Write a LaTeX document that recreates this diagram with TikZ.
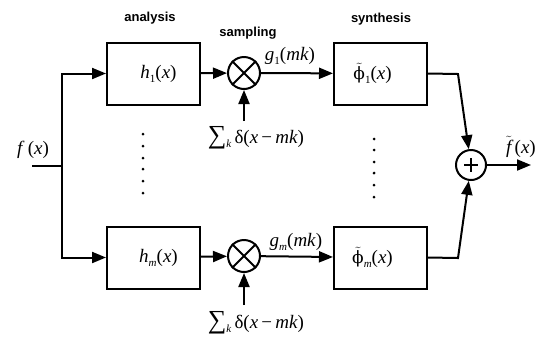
\documentclass[tikz,border=0pt]{standalone}
\usepackage{fontspec}
\setmainfont{Liberation Serif}
\newfontfamily\labf{Liberation Sans}
\newfontfamily\grk{DejaVu Serif}
\usetikzlibrary{arrows.meta}
\newcommand{\ix}[1]{\textit{#1}}
\newcommand{\sub}[1]{\raisebox{-4pt}{\fontsize{11}{11}\selectfont #1}}
\newcommand{\phit}{$\tilde{\mbox{\grk\fontsize{17}{19}\selectfont ϕ}}$}
\newcommand{\sumk}{{\fontsize{26}{26}\selectfont ∑}\raisebox{-4pt}{\fontsize{11}{11}\selectfont\itshape k}\,δ(\ix{x}\,−\,\ix{mk})}
\begin{document}
\begin{tikzpicture}[x=1pt,y=-1pt,
  line width=2pt,
  arr/.style={-{Triangle[length=14pt,width=11pt]}},
  blk/.style={draw,minimum width=93pt,minimum height=62pt,inner sep=0pt},
  mult/.style={draw,circle,minimum size=32pt,inner sep=0pt},
  addr/.style={draw,circle,minimum size=30pt,inner sep=0pt},
  lab/.style={font=\labf\bfseries\fontsize{13}{15}\selectfont,inner sep=0pt},
  mth/.style={font=\fontsize{19}{21}\selectfont,inner sep=0pt},
  dot/.style={circle,fill,inner sep=0pt,minimum size=3pt}]
\useasboundingbox (0,0) rectangle (545,341);

% titles
\node[lab] (ta) at (150,18) {analysis};
\node[lab] (ts) at (248,33) {sampling};
\node[lab] (ty) at (381,19) {synthesis};

% blocks
\node[blk,label={[mth,xshift=5pt]center:\ix{h}\sub{1}(\ix{x})}] (h1) at (153.5,73.5) {};
\node[blk,label={[mth,xshift=5pt]center:\ix{h}\sub{\itshape m}(\ix{x})}] (hm) at (153.5,257.5) {};
\node[blk,label={[mth,xshift=-8pt]center:\phit\sub{1}(\ix{x})}] (s1) at (380.5,73.5) {};
\node[blk,label={[mth,xshift=-8pt]center:\phit\sub{\itshape m}(\ix{x})}] (sm) at (380.5,257.5) {};

% multipliers
\node[mult] (m1) at (244,73) {};
\node[mult] (mm) at (244,256) {};
\draw (m1.north west) -- (m1.south east) (m1.north east) -- (m1.south west);
\draw (mm.north west) -- (mm.south east) (mm.north east) -- (mm.south west);

% adder
\node[addr] (p) at (471,165) {};
\draw (p.center) ++(-7,0) -- ++(14,0) (p.center) ++(0,-7) -- ++(0,14);

% coordinates
\coordinate (in) at (32,166);
\coordinate (split) at (62,166);
\coordinate (d1) at (244,121);
\coordinate (dm) at (244,305);
\coordinate (out) at (531,165);
\coordinate (k1) at (458,74);
\coordinate (km) at (458,258);

% text labels
\node[mth] (fl) at (33,150) {\ix{f}\,(\ix{x})};
\node[mth] (ftl) at (521,147) {$\tilde{\mbox{\itshape f}}$\,(\ix{x})};
\node[mth] (sg1) at (256,138) {\sumk};
\node[mth] (sgm) at (256,323) {\sumk};
\node[mth] (g1) at (290,56) {\ix{g}\sub{1}(\ix{mk})};
\node[mth] (gm) at (296,242) {\ix{g}\sub{\itshape m}(\ix{mk})};

% connectors
\draw (in) -- (split);
\draw[arr] (split) |- (h1.west);
\draw[arr] (split) |- (hm.west);
\draw[arr] (h1) -- (m1);
\draw[arr] (hm) -- (mm);
\draw[arr] (d1) -- (m1);
\draw[arr] (dm) -- (mm);
\draw[arr] (m1) -- (s1);
\draw[arr] (mm) -- (sm);
\draw[arr] (s1.east) -- (k1) -- (p);
\draw[arr] (sm.east) -- (km) -- (p);
\draw[arr] (p) -- (out);

% dots
\foreach \yy in {134,146,158,169,181,193} \node[dot] at (143,\yy) {};
\foreach \yy in {139,150,162,173,185,197} \node[dot] at (374,\yy) {};
\end{tikzpicture}
\end{document}
